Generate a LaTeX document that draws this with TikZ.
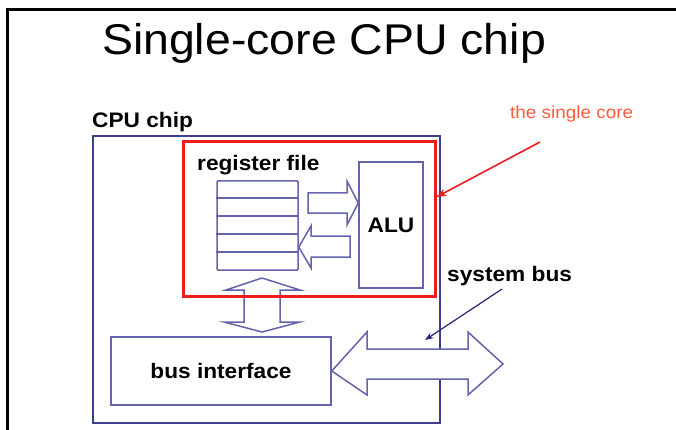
\documentclass[tikz,border=0pt]{standalone}
\usepackage{fontspec}
\setmainfont{Liberation Sans}[FakeStretch=1.08]
\usetikzlibrary{arrows.meta,positioning}
\definecolor{chipblue}{HTML}{3E3E90}
\definecolor{partblue}{HTML}{6464AC}
\definecolor{corered}{HTML}{EE1C1C}
\definecolor{notered}{HTML}{FF5A3C}
\definecolor{pointer}{HTML}{24247A}
\tikzset{>=Stealth,
  every node/.style={inner sep=0pt,font=\bfseries\fontsize{21}{24}\selectfont},
  box/.style={draw=partblue,line width=1.5pt},
  chipbox/.style={draw=chipblue,line width=1.4pt},
  corebox/.style={draw=corered,line width=3pt},
  blockarrow/.style={draw=partblue,line width=1.5pt,line join=miter},
  callout/.style={->,line width=1.6pt}}

\begin{document}
\begin{tikzpicture}[x=1pt,y=-1pt]
\useasboundingbox (0,0) rectangle (676,430);
\draw[line width=3pt] (7.5,432) |- (678,10);
\node[anchor=base,font=\fontsize{43}{50}\selectfont] (title) at (324,55) {Single-core CPU chip};

% chip, core and parts
\node[chipbox,minimum width=347pt,minimum height=287pt] (chip) at (266.5,279.5) {};
\node[anchor=base west] (chiplbl) at (92,128) {CPU chip};
\node[box,minimum width=81pt,minimum height=89pt,rounded corners=1pt] (reg) at (257.5,225.5) {};
\foreach \y in {198,216,234,252}
  \draw[box] (reg.west |- 0,\y) -- (reg.east |- 0,\y);
\node[anchor=base west] (reglbl) at (197,171) {register file};
\node[box,minimum width=64pt,minimum height=126pt] (alu) at (391,225) {ALU};
\node[box,minimum width=220pt,minimum height=68pt] (bus) at (221,371) {bus interface};

% block arrows
\draw[blockarrow] (308,193) -- (347,193) -- (347,181) -- (alu.west |- 0,203) -- (347,225) -- (347,213) -- (308,213) -- cycle;
\draw[blockarrow] (350,236) -- (311,236) -- (311,226) -- (reg.east |- 0,247) -- (311,268) -- (311,257) -- (350,257) -- cycle;
\draw[blockarrow] (262,278) -- (300,290) -- (280,290) -- (280,322) -- (300,322) -- (262,332) -- (224,322) -- (244,322) -- (244,290) -- (226,290) -- cycle;
\node[corebox,minimum width=252pt,minimum height=154pt] (core) at (309,219) {};
\draw[blockarrow,fill=white] (bus.east) -- (367,332) -- (367,349) -- (468,349) -- (468,332) -- (503,364) -- (468,395) -- (468,379) -- (367,379) -- (367,395) -- cycle;

% labels with pointers
\node[anchor=base west] (buslbl) at (447,281) {system bus};
\coordinate (busdot) at (425,340);
\draw[callout,pointer,line width=1.2pt] (502,289) -- (busdot);
\node[anchor=base west,text=notered,font=\fontsize{17.5}{20}\selectfont] (corelbl) at (510,119) {the single core};
\draw[callout,corered] (540,142) -- (core.east |- 0,197);
\end{tikzpicture}
\end{document}
